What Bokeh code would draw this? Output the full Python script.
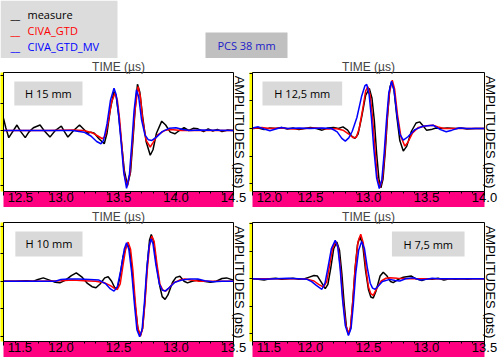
import math
from bokeh.plotting import figure
from bokeh.models import Range1d, LinearAxis, FixedTicker, CustomJSTickFormatter
from bokeh.layouts import column, row
from bokeh.core.properties import value
from bokeh.embed import file_html
from bokeh.resources import INLINE

# ---------------- data ----------------
series_names = ["measure", "CIVA_GTD", "CIVA_GTD_MV"]
series_colors = ["black", "red", "blue"]
panel_labels = ["H 15 mm", "H 12,5 mm", "H 10 mm", "H 7,5 mm"]
header_text = "PCS 38 mm"
x_title = "TIME (\u00b5s)"
y_title = "AMPLITUDES (pts)"

p1_x_ticks = [12.5, 13.0, 13.5, 14.0, 14.5]
p2_x_ticks = [12.0, 12.5, 13.0, 13.5, 14.0]
p3_x_ticks = [11.5, 12.0, 12.5, 13.0, 13.5]
p4_x_ticks = [11.5, 12.0, 12.5, 13.0, 13.5]

# Panel 1 : H 15 mm
p1_measure_t = [12.50, 12.52, 12.546, 12.58, 12.617, 12.65, 12.689, 12.72, 12.76, 12.818, 12.86, 12.904, 12.95,
                13.003, 13.03, 13.06, 13.11, 13.161, 13.20, 13.233, 13.26, 13.29, 13.33, 13.376, 13.40, 13.43,
                13.461, 13.48, 13.50, 13.525, 13.55, 13.578, 13.605, 13.625, 13.645, 13.665, 13.685, 13.71,
                13.74, 13.776, 13.80, 13.83, 13.876, 13.91, 13.95, 13.99, 14.03, 14.07, 14.11, 14.15, 14.19,
                14.24, 14.28, 14.32, 14.36, 14.40, 14.45, 14.50]
p1_measure_v = [0.22, 0.05, -0.13, -0.02, 0.10, -0.02, -0.13, -0.03, 0.05, 0.10, -0.02, -0.12, 0.00,
                0.08, -0.02, -0.12, 0.00, 0.10, 0.02, -0.05, -0.03, -0.05, -0.15, -0.24, -0.05, 0.40,
                0.71, 0.62, 0.30, -0.20, -0.72, -1.00, -0.75, -0.20, 0.40, 0.84, 0.70, 0.25,
                -0.20, -0.45, -0.35, -0.05, 0.17, 0.10, -0.03, -0.06, 0.00, 0.05, 0.00, 0.04, 0.03,
                -0.02, 0.03, -0.01, 0.02, -0.02, 0.01, 0.00]
p1_gtd_t = [12.50, 12.90, 13.10, 13.20, 13.27, 13.32, 13.36, 13.385, 13.41, 13.44, 13.47, 13.49, 13.51, 13.53,
            13.55, 13.575, 13.60, 13.62, 13.64, 13.67, 13.69, 13.71, 13.74, 13.776, 13.80, 13.84, 13.90,
            13.95, 14.05, 14.50]
p1_gtd_v = [0.00, 0.00, 0.01, 0.00, -0.04, -0.10, -0.15, -0.10, 0.15, 0.52, 0.68, 0.55, 0.20, -0.30,
            -0.80, -1.02, -0.78, -0.25, 0.30, 0.80, 0.62, 0.20, -0.18, -0.30, -0.22, -0.08, 0.00,
            0.02, 0.00, 0.00]
p1_mv_t = [12.50, 12.80, 13.10, 13.20, 13.26, 13.31, 13.347, 13.37, 13.40, 13.43, 13.461, 13.48, 13.50, 13.52,
           13.545, 13.570, 13.595, 13.615, 13.635, 13.656, 13.675, 13.70, 13.73, 13.76, 13.79, 13.83, 13.88,
           13.94, 14.00, 14.06, 14.12, 14.20, 14.50]
p1_mv_v = [0.00, 0.00, 0.00, -0.03, -0.10, -0.20, -0.24, -0.18, 0.12, 0.55, 0.77, 0.65, 0.30, -0.15,
           -0.75, -1.05, -0.80, -0.25, 0.35, 0.74, 0.62, 0.20, -0.08, -0.17, -0.18, -0.12, -0.02,
           0.04, 0.05, 0.02, 0.00, 0.01, 0.00]

# Panel 2 : H 12,5 mm
p2_measure_t = [12.00, 12.05, 12.10, 12.15, 12.20, 12.25, 12.30, 12.35, 12.40, 12.45, 12.50, 12.55, 12.60, 12.65,
                12.70, 12.74, 12.78, 12.82, 12.855, 12.884, 12.91, 12.94, 12.975, 13.007, 13.03, 13.05, 13.07,
                13.09, 13.107, 13.125, 13.145, 13.165, 13.185, 13.20, 13.22, 13.245, 13.27, 13.30, 13.33,
                13.37, 13.41, 13.442, 13.47, 13.50, 13.54, 13.58, 13.63, 13.68, 13.75, 13.80, 13.85, 13.92, 14.00]
p2_measure_v = [0.00, 0.01, -0.02, 0.01, 0.00, 0.02, -0.01, 0.01, -0.02, 0.00, 0.02, 0.00, -0.03, 0.01,
                0.02, 0.00, 0.03, -0.03, -0.14, -0.18, -0.10, 0.20, 0.60, 0.73, 0.55, 0.15, -0.45,
                -0.92, -1.08, -0.92, -0.40, 0.25, 0.75, 0.85, 0.70, 0.20, -0.22, -0.41, -0.32,
                -0.05, 0.10, 0.12, 0.05, -0.03, -0.02, 0.01, 0.00, 0.01, 0.00, 0.01, -0.01, 0.00, 0.00]
p2_gtd_t = [12.00, 12.08, 12.15, 12.25, 12.35, 12.45, 12.55, 12.65, 12.72, 12.78, 12.83, 12.87, 12.895, 12.92,
            12.95, 12.975, 12.995, 13.015, 13.035, 13.055, 13.075, 13.099, 13.12, 13.14, 13.16, 13.18, 13.205,
            13.225, 13.25, 13.28, 13.313, 13.34, 13.38, 13.43, 13.50, 13.556, 13.60, 13.65, 13.75, 14.00]
p2_gtd_v = [0.00, 0.02, 0.00, 0.01, -0.01, 0.00, 0.01, -0.01, 0.00, -0.03, -0.10, -0.17, -0.16, 0.00,
            0.35, 0.68, 0.76, 0.60, 0.20, -0.35, -0.88, -1.08, -0.92, -0.45, 0.15, 0.65, 0.88,
            0.72, 0.25, -0.15, -0.32, -0.25, -0.08, 0.02, 0.05, 0.06, 0.03, 0.00, 0.00, 0.00]
p2_mv_t = [12.00, 12.05, 12.10, 12.15, 12.20, 12.25, 12.30, 12.40, 12.50, 12.60, 12.68, 12.73, 12.77, 12.80,
           12.83, 12.86, 12.90, 12.94, 12.97, 12.985, 13.005, 13.025, 13.045, 13.07, 13.093, 13.115, 13.135,
           13.155, 13.175, 13.199, 13.22, 13.245, 13.27, 13.30, 13.34, 13.40, 13.47, 13.556, 13.62, 13.67,
           13.72, 13.78, 13.85, 14.00]
p2_mv_v = [0.01, 0.03, -0.01, -0.04, -0.01, 0.02, 0.00, 0.01, 0.00, 0.01, 0.00, -0.06, -0.18, -0.23,
           -0.17, -0.05, 0.20, 0.58, 0.78, 0.80, 0.62, 0.20, -0.35, -0.90, -1.09, -0.93, -0.45,
           0.15, 0.65, 0.86, 0.70, 0.25, -0.10, -0.21, -0.15, -0.02, 0.04, 0.06, -0.02, -0.06,
           -0.03, 0.01, 0.00, 0.00]

# Panel 3 : H 10 mm
p3_measure_t = [11.50, 11.60, 11.70, 11.76, 11.80, 11.846, 11.90, 11.95, 11.99, 12.04, 12.09, 12.133, 12.18,
                12.23, 12.27, 12.304, 12.34, 12.38, 12.41, 12.44, 12.47, 12.49, 12.51, 12.54, 12.576, 12.60,
                12.62, 12.645, 12.67, 12.69, 12.71, 12.73, 12.75, 12.77, 12.785, 12.805, 12.83, 12.86, 12.88,
                12.905, 12.93, 12.97, 13.00, 13.034, 13.07, 13.10, 13.14, 13.19, 13.24, 13.30, 13.35, 13.40,
                13.44, 13.50]
p3_measure_v = [0.00, 0.00, 0.01, 0.00, 0.03, 0.06, 0.02, -0.02, -0.03, 0.02, 0.10, 0.15, 0.08,
                -0.04, -0.10, -0.12, -0.05, 0.06, 0.08, 0.00, -0.13, -0.12, 0.05, 0.45, 0.69, 0.55,
                0.15, -0.45, -0.88, -0.99, -0.85, -0.35, 0.30, 0.75, 0.85, 0.72, 0.30, -0.10, -0.28,
                -0.33, -0.25, -0.02, 0.07, 0.09, 0.00, -0.03, 0.00, 0.02, 0.00, -0.02, 0.00, 0.05,
                0.06, 0.02]
p3_gtd_t = [11.50, 11.80, 12.00, 12.10, 12.20, 12.30, 12.38, 12.43, 12.465, 12.49, 12.515, 12.54, 12.565,
            12.584, 12.605, 12.625, 12.645, 12.665, 12.69, 12.71, 12.73, 12.75, 12.77, 12.79, 12.81, 12.835,
            12.86, 12.885, 12.91, 12.94, 12.98, 13.03, 13.077, 13.13, 13.20, 13.50]
p3_gtd_v = [0.00, 0.00, 0.01, 0.02, 0.01, 0.00, -0.03, -0.08, -0.13, -0.15, -0.05, 0.30, 0.62,
            0.71, 0.58, 0.20, -0.35, -0.82, -1.00, -0.86, -0.40, 0.20, 0.65, 0.82, 0.72, 0.30,
            -0.05, -0.16, -0.18, -0.12, -0.03, 0.02, 0.04, 0.02, 0.00, 0.00]
p3_mv_t = [11.50, 11.80, 11.95, 12.00, 12.06, 12.15, 12.25, 12.33, 12.39, 12.43, 12.461, 12.49, 12.52, 12.55,
           12.57, 12.59, 12.615, 12.64, 12.66, 12.684, 12.705, 12.725, 12.745, 12.765, 12.782, 12.80, 12.825,
           12.855, 12.88, 12.905, 12.94, 12.99, 13.05, 13.12, 13.19, 13.25, 13.32, 13.40, 13.50]
p3_mv_v = [0.00, 0.00, 0.00, 0.03, 0.04, 0.04, 0.03, 0.02, -0.05, -0.14, -0.18, -0.10, 0.20, 0.58,
           0.70, 0.58, 0.15, -0.45, -0.88, -1.01, -0.88, -0.40, 0.20, 0.62, 0.77, 0.68, 0.30,
           -0.05, -0.16, -0.18, -0.12, -0.02, 0.02, 0.04, 0.04, 0.01, -0.01, 0.00, 0.00]

# Panel 4 : H 7,5 mm
p4_measure_t = [11.50, 11.55, 11.60, 11.65, 11.70, 11.75, 11.80, 11.85, 11.90, 11.95, 11.99, 12.03, 12.06,
                12.09, 12.127, 12.15, 12.175, 12.20, 12.227, 12.25, 12.27, 12.29, 12.31, 12.327, 12.345,
                12.365, 12.385, 12.405, 12.427, 12.45, 12.475, 12.50, 12.52, 12.541, 12.565, 12.60, 12.627,
                12.66, 12.69, 12.713, 12.75, 12.80, 12.87, 12.91, 12.96, 13.00, 13.05, 13.10, 13.15, 13.20,
                13.25, 13.30, 13.35, 13.40, 13.50]
p4_measure_v = [0.00, -0.01, -0.02, 0.00, 0.01, -0.01, 0.00, 0.01, -0.01, 0.00, 0.03, 0.06, 0.05,
                -0.05, -0.18, -0.10, 0.20, 0.55, 0.67, 0.52, 0.10, -0.45, -0.88, -1.01, -0.90,
                -0.40, 0.20, 0.62, 0.77, 0.62, 0.15, -0.20, -0.33, -0.35, -0.22, 0.05, 0.12,
                0.05, -0.05, -0.07, -0.02, 0.03, 0.05, 0.00, -0.03, 0.00, -0.01, 0.01, -0.02, 0.00,
                -0.01, 0.00, -0.01, 0.00, 0.00]
p4_gtd_t = [11.50, 11.70, 11.90, 11.98, 12.03, 12.07, 12.112, 12.14, 12.165, 12.19, 12.218, 12.24, 12.26,
            12.28, 12.305, 12.327, 12.345, 12.365, 12.385, 12.41, 12.433, 12.455, 12.48, 12.50, 12.52,
            12.541, 12.57, 12.61, 12.65, 12.684, 12.75, 12.85, 13.50]
p4_gtd_v = [0.00, 0.00, 0.00, -0.01, -0.04, -0.10, -0.15, -0.05, 0.25, 0.55, 0.68, 0.55, 0.15,
            -0.40, -0.85, -0.99, -0.88, -0.40, 0.20, 0.68, 0.81, 0.65, 0.15, -0.15, -0.27,
            -0.30, -0.18, -0.04, 0.01, 0.02, 0.01, 0.00, 0.00]
p4_mv_t = [11.50, 11.60, 11.70, 11.80, 11.90, 11.97, 12.01, 12.05, 12.098, 12.125, 12.15, 12.18, 12.213,
           12.235, 12.255, 12.275, 12.30, 12.327, 12.35, 12.37, 12.39, 12.415, 12.441, 12.465, 12.49,
           12.515, 12.535, 12.556, 12.58, 12.62, 12.684, 12.73, 12.77, 12.82, 12.884, 12.95, 13.00, 13.05,
           13.10, 13.50]
p4_mv_v = [0.00, -0.01, 0.00, 0.01, 0.00, -0.01, -0.05, -0.12, -0.19, -0.08, 0.20, 0.55, 0.70,
           0.58, 0.20, -0.35, -0.85, -1.03, -0.90, -0.45, 0.10, 0.52, 0.68, 0.55, 0.20,
           -0.08, -0.17, -0.19, -0.14, -0.05, -0.01, -0.03, -0.04, 0.00, 0.02, -0.02, -0.01, 0.01,
           0.00, 0.00]

# ---------------- styling / layout ----------------
PINK = "#ff0080"
YELLOW = "#ffff00"
BOXGRAY = "#d9d9d9"
FONT_AX = "Liberation Sans"
FONT_TX = "Open Sans"


def make_panel(xr, yr, xticks, curves, label, box, width, height, right_border, top_border):
    p = figure(width=width, height=height,
               x_range=Range1d(*xr), y_range=Range1d(*yr),
               output_backend="svg", toolbar_location=None,
               x_axis_location=None, y_axis_location=None, title=x_title)
    p.grid.visible = False
    p.min_border_left = 3
    p.min_border_right = right_border
    p.min_border_top = top_border
    p.min_border_bottom = 0
    p.outline_line_color = "black"
    p.outline_line_width = 1
    p.background_fill_color = "white"
    p.border_fill_color = "white"
    p.title.text_font = FONT_AX
    p.title.text_font_size = "12px"
    p.title.text_font_style = "normal"
    p.title.align = "center"
    p.title.standoff = -3
    p.title.offset = 0

    minor = [round(xr[0] + 0.1 * i, 2) for i in range(1, 20)]
    xa = LinearAxis(ticker=FixedTicker(ticks=xticks, minor_ticks=minor),
                    formatter=CustomJSTickFormatter(code="""
                        const s = tick.toFixed(1);
                        return index == 0 ? '\\u00a0\\u00a0' + s : s;
                    """),
                    major_tick_out=4, major_tick_in=0, minor_tick_out=2, minor_tick_in=0,
                    major_label_standoff=-6,
                    major_label_text_font=FONT_AX, major_label_text_font_size="13px",
                    major_label_text_color="black",
                    axis_line_color="black",
                    background_fill_color=PINK)
    p.add_layout(xa, "below")

    ya = LinearAxis(ticker=FixedTicker(ticks=[-1.0, -0.5, 0.0, 0.5, 1.0], minor_ticks=[]),
                    formatter=CustomJSTickFormatter(code="return '';"),
                    major_tick_out=3, major_tick_in=0, minor_tick_out=0, minor_tick_in=0,
                    major_label_text_color=None, major_label_text_font_size="1px",
                    major_label_standoff=0,
                    axis_line_color="black", background_fill_color=YELLOW)
    p.add_layout(ya, "left")

    yr_ax = LinearAxis(ticker=FixedTicker(ticks=[], minor_ticks=[]),
                       axis_label=y_title, axis_label_standoff=-2,
                       axis_label_text_font=FONT_AX, axis_label_text_font_size="13px",
                       axis_label_text_font_style="normal", axis_label_text_color="black",
                       major_tick_out=0, major_tick_in=0, minor_tick_out=0, minor_tick_in=0,
                       major_label_standoff=0, axis_line_color=None)
    p.add_layout(yr_ax, "right")

    p.quad(left=[box[0]], right=[box[1]], bottom=[box[3]], top=[box[2]],
           fill_color=BOXGRAY, line_color=None)
    p.text(x=[(box[0] + box[1]) / 2], y=[(box[2] + box[3]) / 2], text=[label],
           text_font=value(FONT_TX), text_font_size="11px", text_color="black",
           text_align="center", text_baseline="middle")

    for (t, v), col in zip(curves, series_colors):
        p.line(t, v, line_color=col, line_width=1.5)
    return p


p1 = make_panel((12.5, 14.5), (-1.109, 1.055), p1_x_ticks,
                [(p1_measure_t, p1_measure_v), (p1_gtd_t, p1_gtd_v), (p1_mv_t, p1_mv_v)],
                panel_labels[0], (12.594, 13.187, 0.891, 0.455), 249, 149, 13, 14)
p2 = make_panel((12.0, 14.0), (-1.145, 1.018), p2_x_ticks,
                [(p2_measure_t, p2_measure_v), (p2_gtd_t, p2_gtd_v), (p2_mv_t, p2_mv_v)],
                panel_labels[1], (12.086, 12.773, 0.855, 0.418), 251, 149, 15, 14)
p3 = make_panel((11.5, 13.5), (-1.096, 1.067), p3_x_ticks,
                [(p3_measure_t, p3_measure_v), (p3_gtd_t, p3_gtd_v), (p3_mv_t, p3_mv_v)],
                panel_labels[2], (11.603, 12.187, 0.904, 0.449), 249, 150, 13, 15)
p4 = make_panel((11.5, 13.5), (-1.14, 1.024), p4_x_ticks,
                [(p4_measure_t, p4_measure_v), (p4_gtd_t, p4_gtd_v), (p4_mv_t, p4_mv_v)],
                panel_labels[3], (12.702, 13.328, 0.86, 0.405), 251, 150, 15, 15)

# header with legend and PCS box
h = figure(width=500, height=58, x_range=Range1d(0, 500), y_range=Range1d(58, 0),
           output_backend="svg", toolbar_location=None,
           x_axis_location=None, y_axis_location=None)
h.grid.visible = False
h.min_border = 0
h.outline_line_color = None
h.quad(left=[0], right=[117], top=[0], bottom=[58], fill_color="#dcdcdc", line_color=None)
h.quad(left=[205], right=[287], top=[32], bottom=[58], fill_color="#c0c0c0", line_color=None)
legend_y = [14, 30, 46]
h.text(x=[10, 10, 10], y=legend_y, text=["__", "__", "__"], text_color=series_colors,
       text_font=value(FONT_TX), text_font_size="11px", text_baseline="middle")
h.text(x=[27, 27, 27], y=legend_y, text=series_names, text_color=series_colors,
       text_font=value(FONT_TX), text_font_size="11px", text_baseline="middle")
h.text(x=[246], y=[45], text=[header_text], text_color="#2020c8",
       text_font=value(FONT_TX), text_font_size="11px", text_baseline="middle", text_align="center")

layout = column(h, row(p1, p2), row(p3, p4),
                styles={"position": "absolute", "left": "0px", "top": "0px"})

open("out.html", "w").write(file_html(layout, INLINE))
